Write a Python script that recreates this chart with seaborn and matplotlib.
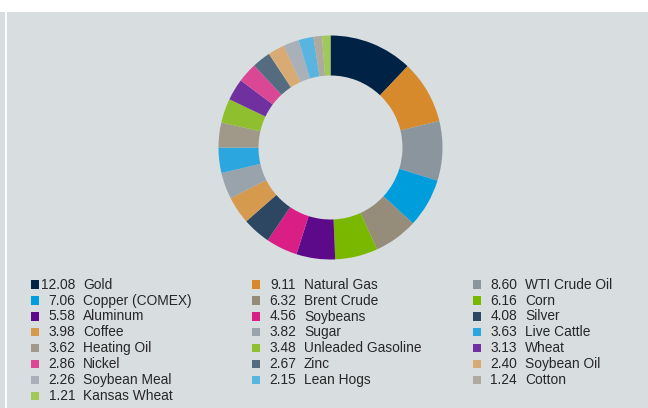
import matplotlib
matplotlib.use("Agg")
import matplotlib.pyplot as plt
import seaborn as sns
from matplotlib.patches import Rectangle

commodities = ["Gold", "Natural Gas", "WTI Crude Oil", "Copper (COMEX)", "Brent Crude", "Corn",
               "Aluminum", "Soybeans", "Silver", "Coffee", "Sugar", "Live Cattle",
               "Heating Oil", "Unleaded Gasoline", "Wheat", "Nickel", "Zinc", "Soybean Oil",
               "Soybean Meal", "Lean Hogs", "Cotton", "Kansas Wheat"]
weights = [12.08, 9.11, 8.60, 7.06, 6.32, 6.16, 5.58, 4.56, 4.08, 3.98, 3.82, 3.63,
           3.62, 3.48, 3.13, 2.86, 2.67, 2.40, 2.26, 2.15, 1.24, 1.21]
colors = ["#002244", "#d68a2b", "#8a959e", "#009ddc", "#958c7a", "#7ab800",
          "#5c0a8a", "#d91f85", "#2d4763", "#d59a4e", "#98a3ab", "#2ba6de",
          "#a09888", "#8fbf2f", "#7030a0", "#d94795", "#546b80", "#d8ab74",
          "#a9b0b7", "#5ab4e0", "#aeaaa0", "#a0c95a"]

sns.set_theme(style="white")
plt.rcParams['font.family'] = ['Liberation Sans', 'DejaVu Sans']
palette = sns.color_palette(colors)

W, H = 648, 408
fig = plt.figure(figsize=(W / 100, H / 100), dpi=100, facecolor="white")
bg = "#d8dde0"

def px_rect(x0, y0, x1, y1, **kw):
    fig.add_artist(Rectangle((x0 / W, 1 - y1 / H), (x1 - x0) / W, (y1 - y0) / H,
                             transform=fig.transFigure, **kw))

px_rect(0, 12, 4.5, H, facecolor=bg, edgecolor="none", zorder=0)
px_rect(7, 12, W, H, facecolor=bg, edgecolor="none", zorder=0)

cx, cy, R = 330.5, 147.5, 112
ax = fig.add_axes([(cx - R) / W, (H - cy - R) / H, 2 * R / W, 2 * R / H])
ax.set_facecolor("none")
ax.pie(weights, colors=palette, startangle=90, counterclock=False, radius=1,
       wedgeprops=dict(width=1 - 72 / 112, edgecolor="none", linewidth=0))
ax.set_xlim(-1, 1)
ax.set_ylim(-1, 1)
ax.set_aspect("equal")
ax.axis("off")

# legend, filled row-wise in three columns
ncol = 3
for i, (name, val, col) in enumerate(zip(commodities, weights, palette)):
    r, c = divmod(i, ncol)
    x0 = 30.5 + 221 * c
    yc = 284.7 + 15.9 * r
    px_rect(x0, yc - 4.5, x0 + 8.8, yc + 4.0, facecolor=col, edgecolor="none", zorder=2)
    fig.text((x0 + 44.5) / W, 1 - yc / H, f"{val:.2f}", ha="right", va="center",
             fontsize=9.9, color="#262626")
    fig.text((x0 + 52.5) / W, 1 - yc / H, name, ha="left", va="center",
             fontsize=9.9, color="#262626")

fig.savefig("out.png", dpi=100, facecolor="white")
